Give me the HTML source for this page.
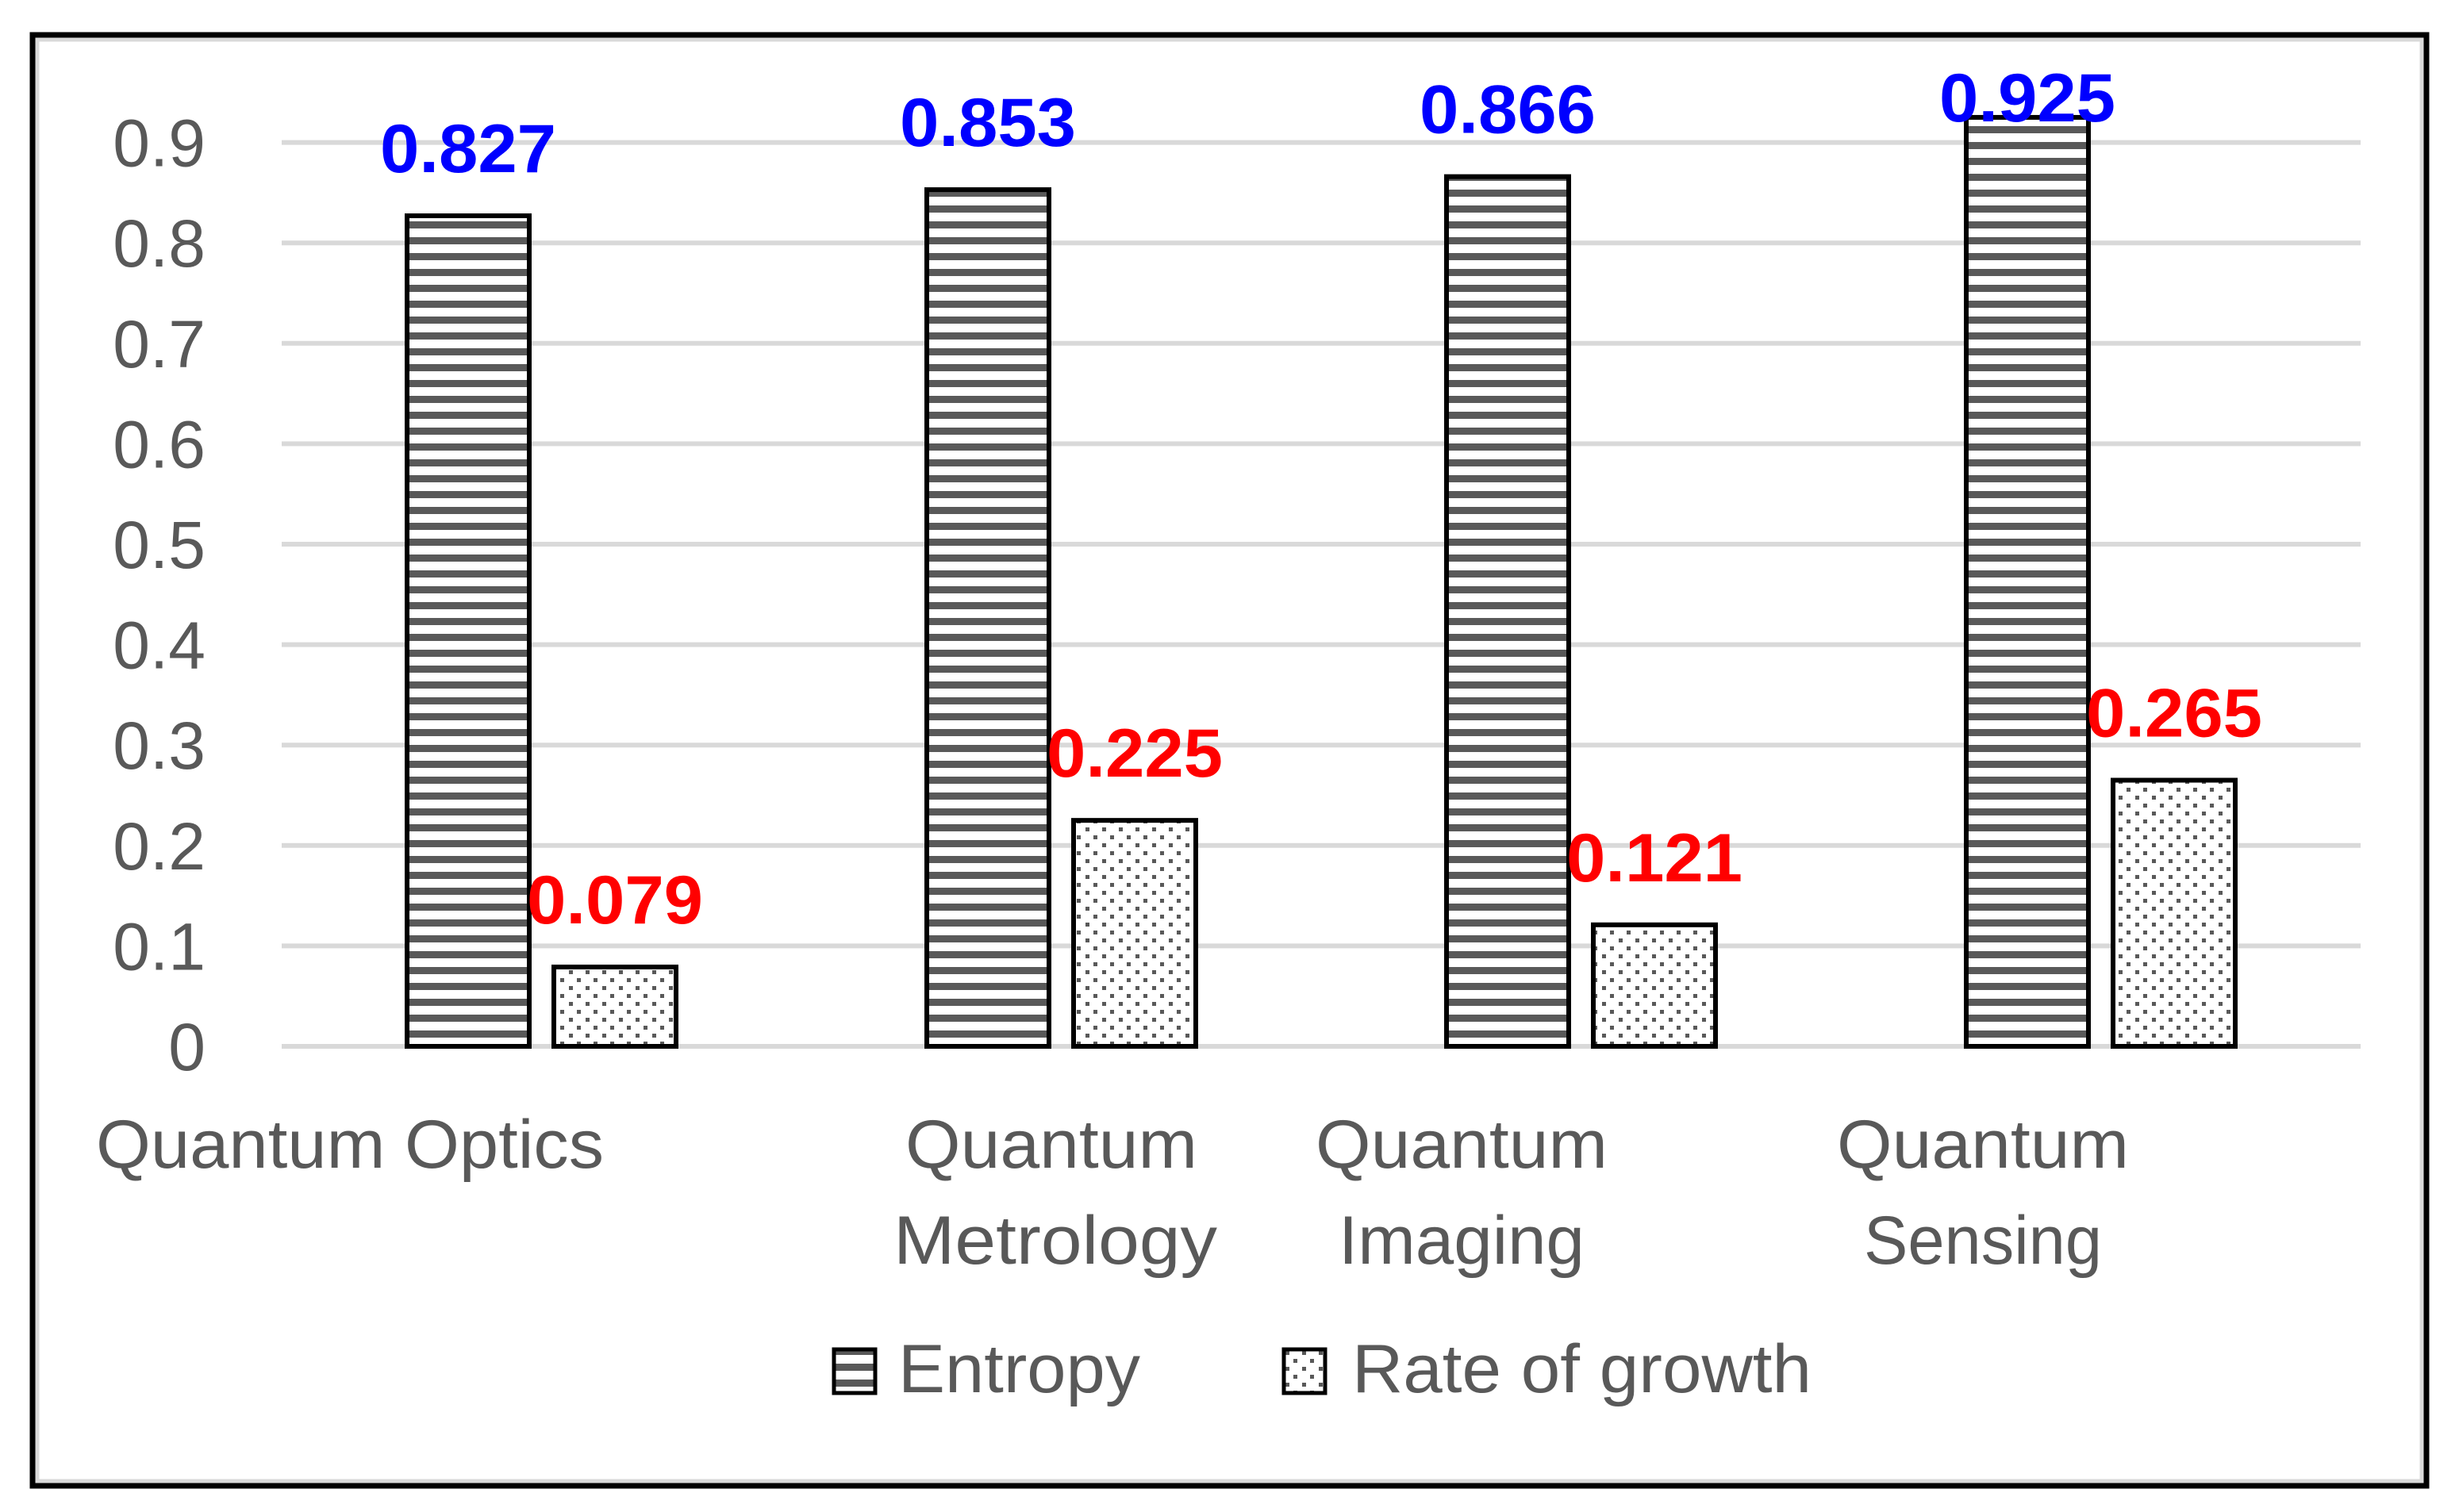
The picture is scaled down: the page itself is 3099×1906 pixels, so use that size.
<!DOCTYPE html>
<html><head><meta charset="utf-8"><style>
html,body{margin:0;padding:0;background:#fff;}
svg{display:block;}
</style></head><body>
<svg id="chart" width="3099" height="1906" viewBox="0 0 3099 1906" xmlns="http://www.w3.org/2000/svg" font-family="'Liberation Sans', sans-serif">
<defs>
<pattern id="stripes" patternUnits="userSpaceOnUse" width="20" height="20" y="1319">
<rect width="20" height="20" fill="#fff"/><rect y="0" width="20" height="9" fill="#595959"/>
</pattern>
<pattern id="dots" patternUnits="userSpaceOnUse" width="21" height="20">
<rect width="21" height="20" fill="#fff"/>
<rect x="3" y="3" width="5" height="5" fill="#595959"/>
<rect x="13" y="13" width="5" height="5" fill="#595959"/>
</pattern>
</defs>
<rect x="47" y="50" width="3005" height="1817" fill="none" stroke="#d9d9d9" stroke-width="5"/>
<rect x="41" y="44" width="3017" height="1829" fill="none" stroke="#000" stroke-width="7"/>
<g id="grid"></g><g id="bars"></g><g id="labels"></g>
<g font-size="86" fill="#595959">
<text x="441" y="1472" text-anchor="middle" textLength="640" lengthAdjust="spacingAndGlyphs">Quantum Optics</text>
<text x="1325" y="1472" text-anchor="middle" textLength="368" lengthAdjust="spacingAndGlyphs">Quantum</text>
<text x="1330" y="1593" text-anchor="middle" textLength="408" lengthAdjust="spacingAndGlyphs">Metrology</text>
<text x="1842" y="1472" text-anchor="middle" textLength="368" lengthAdjust="spacingAndGlyphs">Quantum</text>
<text x="1842" y="1593" text-anchor="middle" textLength="310" lengthAdjust="spacingAndGlyphs">Imaging</text>
<text x="2499" y="1472" text-anchor="middle" textLength="368" lengthAdjust="spacingAndGlyphs">Quantum</text>
<text x="2499" y="1593" text-anchor="middle" textLength="300" lengthAdjust="spacingAndGlyphs">Sensing</text>
</g>
<g font-size="86" fill="#595959">
<rect x="1051" y="1701" width="52" height="55" fill="url(#stripes)" stroke="#000" stroke-width="5"/>
<text x="1132" y="1755" textLength="305" lengthAdjust="spacingAndGlyphs">Entropy</text>
<rect x="1618" y="1701" width="52" height="55" fill="url(#dots)" stroke="#000" stroke-width="5"/>
<text x="1704" y="1755" textLength="579" lengthAdjust="spacingAndGlyphs">Rate of growth</text>
</g>
</svg>
<script>
const categories = ["Quantum Optics","Quantum Metrology","Quantum Imaging","Quantum Sensing"];
const entropyValues = [0.827, 0.853, 0.866, 0.925];
const growthValues = [0.079, 0.225, 0.121, 0.265];
const yTicks = [0, 0.1, 0.2, 0.3, 0.4, 0.5, 0.6, 0.7, 0.8, 0.9];
const yTickLabels = ["0","0.1","0.2","0.3","0.4","0.5","0.6","0.7","0.8","0.9"];

const NS = "http://www.w3.org/2000/svg";
const plotL = 355, plotR = 2975, y0 = 1319, pxPerUnit = 1266;
const bandW = (plotR - plotL) / categories.length;
const barW = 154, offset = 92.5;
function yScale(v){ return y0 - v * pxPerUnit; }
function xCenter(i){ return plotL + bandW * (i + 0.5); }
function mk(tag, attrs, parent){
  const e = document.createElementNS(NS, tag);
  for (const k in attrs) e.setAttribute(k, attrs[k]);
  parent.appendChild(e); return e;
}
const grid = document.getElementById('grid');
const bars = document.getElementById('bars');
const labels = document.getElementById('labels');
yTicks.forEach((t, i) => {
  const l = mk('line', {x1: plotL, x2: plotR, y1: yScale(t), y2: yScale(t), stroke: '#d9d9d9', 'stroke-width': 6}, grid);
  
  
  const tx = mk('text', {x: 259, y: yScale(t) + 30, 'text-anchor': 'end', 'font-size': 84, fill: '#595959'}, grid);
  tx.textContent = yTickLabels[i];
  
  
});
categories.forEach((c, i) => {
  const cx = xCenter(i);
  [[entropyValues[i], -offset, 'url(#stripes)', '#0000ff', 'entropy'],
   [growthValues[i], offset, 'url(#dots)', '#ff0000', 'growth']].forEach(([v, off, fill, col, key]) => {
    const top = yScale(v);
    const r = mk('rect', {x: cx + off - barW/2, y: top, width: barW, height: y0 - top, fill: fill, stroke: '#000', 'stroke-width': 6}, bars);
    
    
    const t = mk('text', {x: cx + off, y: Math.max(top - 55, 153), 'text-anchor': 'middle', 'font-size': 86, 'font-weight': 'bold', fill: col, textLength: 222, lengthAdjust: 'spacingAndGlyphs'}, labels);
    t.textContent = v.toFixed(3);
    
    
  });
});
</script>
</body></html>
